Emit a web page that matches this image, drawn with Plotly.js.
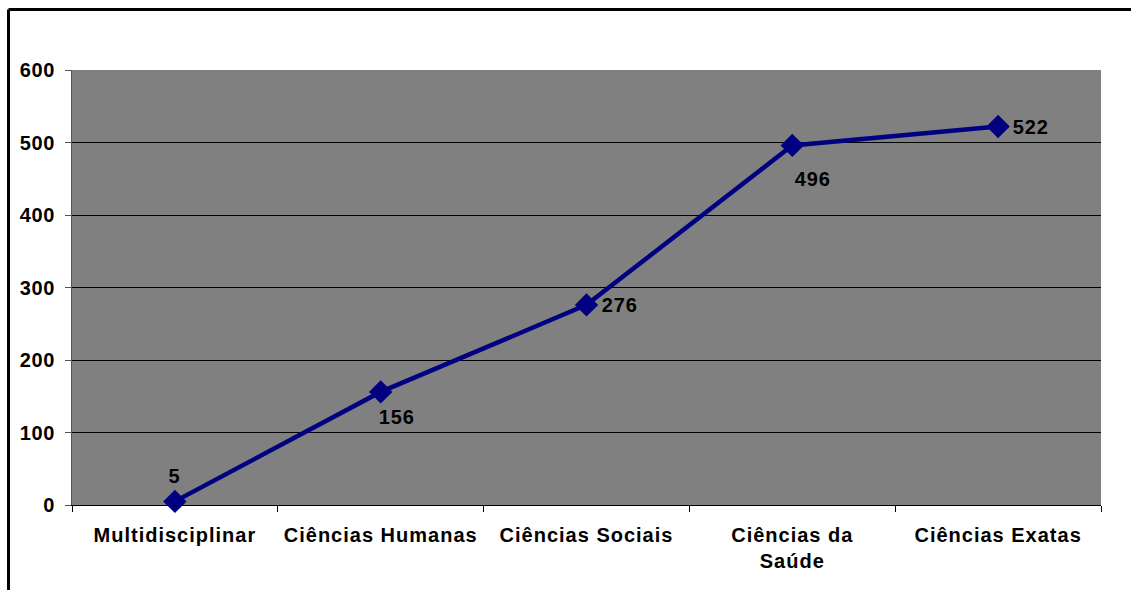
<!DOCTYPE html>
<html>
<head>
<meta charset="utf-8">
<script src="https://cdn.plot.ly/plotly-3.0.1.min.js"></script>
<style>
html,body{margin:0;padding:0;background:#fff;}
#chart{width:1131px;height:590px;}
#chart g.xtick text{letter-spacing:1px;}
#chart g.ytick text{letter-spacing:0.6px;}
#chart g.annotation text{letter-spacing:0.8px;}
</style>
</head>
<body>
<div id="chart"></div>
<script>
const categories = ["Multidisciplinar", "Ciências Humanas", "Ciências Sociais", "Ciências da<br>Saúde", "Ciências Exatas"];
const values = [5, 156, 276, 496, 522];
const yTickValues = [0, 100, 200, 300, 400, 500, 600];

// label placement offsets (pixels) per point
const labelShiftX = [0, 16, 33, 20, 32];
const labelShiftY = [25, -25, 0, -34, 0];

const FONT = "Liberation Sans, Arial, Helvetica, sans-serif";

const trace = {
  type: "scatter",
  mode: "lines+markers",
  x: categories,
  y: values,
  line: {color: "#000080", width: 4.5},
  marker: {symbol: "diamond", size: 18, color: "#000080"},
  hoverinfo: "skip",
  cliponaxis: false
};

const annotations = values.map((v, i) => ({
  x: categories[i], y: v, xref: "x", yref: "y",
  text: "<b>" + v + "</b>", showarrow: false,
  xanchor: "center", yanchor: "middle",
  xshift: labelShiftX[i], yshift: labelShiftY[i],
  font: {family: FONT, size: 20, color: "#000"}
}));

const layout = {
  width: 1131, height: 590,
  margin: {l: 72, r: 30, t: 70, b: 85},
  paper_bgcolor: "#ffffff",
  plot_bgcolor: "#808080",
  showlegend: false,
  font: {family: FONT, size: 20, color: "#000"},
  xaxis: {
    type: "category",
    tickson: "boundaries",
    ticks: "outside", ticklen: 6, tickcolor: "#000", tickwidth: 1,
    showgrid: false,
    showline: true, linecolor: "#000", linewidth: 1,
    tickfont: {family: FONT, size: 20, color: "#000", weight: "bold"},
    ticklabelstandoff: 12,
    range: [-0.5, 4.5],
    fixedrange: true
  },
  yaxis: {
    range: [0, 600],
    tickvals: yTickValues,
    ticktext: yTickValues.map(String),
    ticks: "outside", ticklen: 6, tickcolor: "#555", tickwidth: 1,
    showgrid: true, gridcolor: "#000", gridwidth: 1,
    showline: true, linecolor: "#555", linewidth: 1,
    zeroline: false,
    tickfont: {family: FONT, size: 20, color: "#000", weight: "bold"},
    ticklabelstandoff: 6,
    fixedrange: true
  },
  annotations: annotations,
  shapes: [
    {type: "line", xref: "paper", yref: "paper", x0: (8.5-72)/1029, x1: 1.1, y0: (505-9.5)/435, y1: (505-9.5)/435, line: {color: "#000", width: 3}},
    {type: "line", xref: "paper", yref: "paper", x0: (8.5-72)/1029, x1: (8.5-72)/1029, y0: (505-9.5)/435, y1: -0.3, line: {color: "#000", width: 3}}
  ]
};

Plotly.newPlot("chart", [trace], layout, {displayModeBar: false, staticPlot: true});
</script>
</body>
</html>
